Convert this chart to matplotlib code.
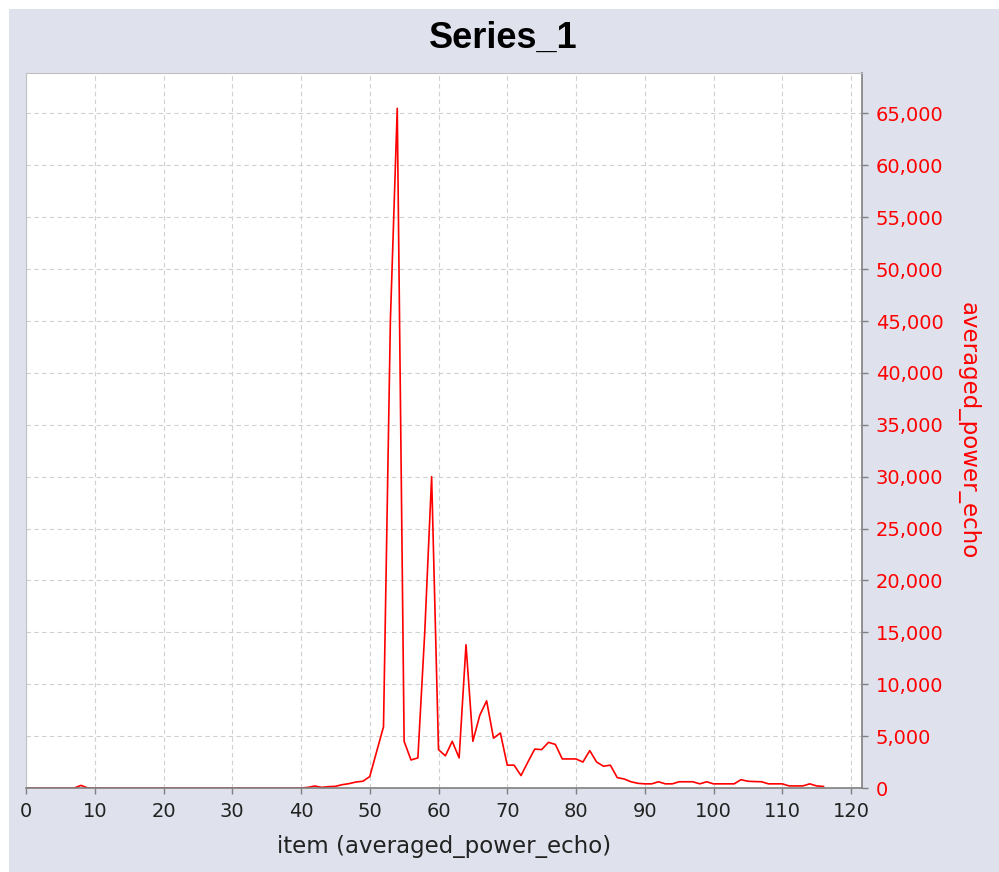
import numpy as np
import matplotlib
matplotlib.use("Agg")
import matplotlib.pyplot as plt
from matplotlib.ticker import FuncFormatter, MultipleLocator
from matplotlib.patches import Rectangle

plt.rcParams['font.family'] = ['DejaVu Sans']

# item index and averaged power echo values
items = list(range(0, 117))
power = [0, 0, 0, 0, 0, 0, 0, 0, 250, 0,          # 0-9
         0, 0, 0, 0, 0, 0, 0, 0, 0, 0,            # 10-19
         0, 0, 0, 0, 0, 0, 0, 0, 0, 0,            # 20-29
         0, 0, 0, 0, 0, 0, 0, 0, 0, 0,            # 30-39
         0, 60, 190, 60, 130, 160, 320, 420, 580, 650,        # 40-49
         1100, 3500, 5900, 45000, 65500, 4500, 2700, 2900, 15000, 30000,  # 50-59
         3700, 3100, 4500, 2900, 13800, 4500, 7000, 8400, 4800, 5300,     # 60-69
         2200, 2200, 1200, 2500, 3750, 3700, 4400, 4200, 2800, 2800,      # 70-79
         2800, 2500, 3600, 2500, 2100, 2200, 1000, 870, 600, 450,         # 80-89
         400, 400, 600, 400, 400, 600, 600, 600, 400, 600,                # 90-99
         400, 400, 400, 400, 800, 650, 620, 600, 400, 400,                # 100-109
         400, 200, 200, 200, 400, 200, 150]                               # 110-116

x_ticks = list(range(0, 121, 10))
title = "Series_1"
x_label = "item (averaged_power_echo)"
y_label = "averaged_power_echo"

W, H = 999, 872
fig = plt.figure(figsize=(W / 100, H / 100), dpi=100, facecolor='white')
# lavender panel with thin white strip on top/left
fig.patches.append(Rectangle((9 / W, 0), 1 - 9 / W, 1 - 9 / H, transform=fig.transFigure,
                             facecolor='#dfe2ed', edgecolor='none', zorder=-10))

ax = fig.add_axes([26 / W, (H - 788) / H, (862 - 26) / W, (788 - 73) / H])
ax.set_facecolor('white')
ax.plot(items, power, color='#ff0000', linewidth=1.2)

ax.set_xlim(0, 121.6)
ax.set_ylim(0, 68900)
ax.set_xticks(x_ticks)
ax.yaxis.set_major_locator(MultipleLocator(5000))
ax.yaxis.set_major_formatter(FuncFormatter(lambda v, p: f"{int(v):,}"))

ax.yaxis.tick_right()
ax.yaxis.set_label_position('right')
ax.tick_params(axis='x', colors='#808080', labelcolor='#222222', labelsize=14,
               length=4, width=1, direction='out', pad=6)
ax.tick_params(axis='y', colors='#808080', labelcolor='#ff0000', labelsize=14,
               length=4, width=1, direction='out', pad=6)

for side in ['top', 'left']:
    ax.spines[side].set_color('#c0c0c0')
    ax.spines[side].set_linewidth(0.8)
for side in ['bottom', 'right']:
    ax.spines[side].set_color('#808080')
    ax.spines[side].set_linewidth(1.2)

ax.grid(True, color='#d0d0d0', linestyle=(0, (4, 3)), linewidth=0.8)
ax.set_axisbelow(True)

ax.set_xlabel(x_label, fontsize=16.5, color='#222222')
ax.xaxis.set_label_coords(0.5, -0.066)
ax.set_ylabel(y_label, fontsize=16.5, color='#ff0000', rotation=270, va='center')
ax.yaxis.set_label_coords(1.127, 0.5)

fig.text(503 / W, 1 - 38 / H, title, fontsize=26, fontweight='bold',
         family='Liberation Sans', ha='center', va='center', color='black')

fig.savefig('out.png', dpi=100, facecolor=fig.get_facecolor())
